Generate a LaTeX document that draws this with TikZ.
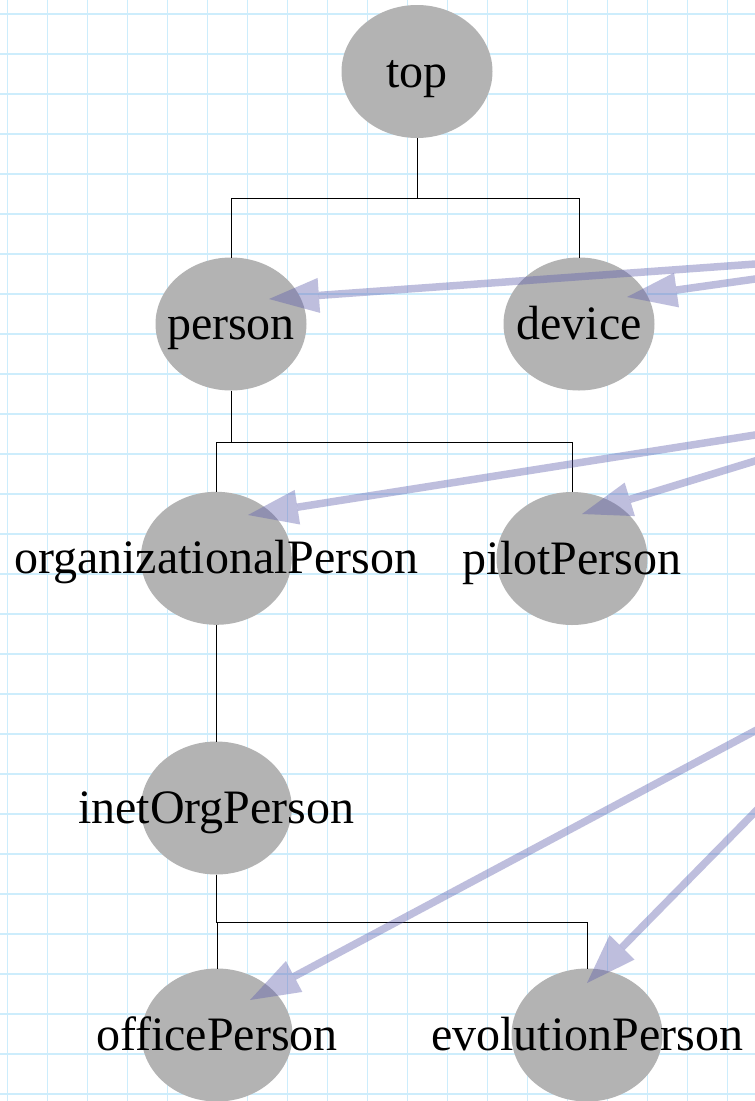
\documentclass[tikz,border=0pt]{standalone}
\usepackage{fontspec}
\setmainfont{Liberation Serif}
\usetikzlibrary{arrows.meta, shapes.geometric}
\definecolor{gridblue}{RGB}{205,237,252}
\definecolor{nodegray}{RGB}{179,179,179}
\definecolor{arrowblue}{RGB}{93,93,172}
\tikzset{
  cls/.style={ellipse, fill=nodegray, draw=none, inner sep=0pt, outer sep=0pt, minimum width=151pt, minimum height=133pt},
  clslbl/.style={font=\fontsize{48}{56}\selectfont, text height=31pt, text depth=0pt, inner sep=0pt, text=black},
  tree/.style={draw=black, line width=1pt},
  refarrow/.style={draw=arrowblue, line width=7.5pt, opacity=0.4, -{Triangle[length=50pt, width=35pt, line width=0pt]}},
  gridline/.style={draw=gridblue, line width=1.8pt}
}
\begin{document}
\begin{tikzpicture}[x=1pt, y=-1pt]
\useasboundingbox (0,0) rectangle (755,1101);
\clip (0,0) rectangle (755,1101);
\fill[white] (0,0) rectangle (755,1101);
\foreach \i in {0,...,18} \draw[gridline] (7.5+40*\i,0) -- (7.5+40*\i,1101);
\foreach \j in {0,...,27} \draw[gridline] (0,14.3+40*\j) -- (755,14.3+40*\j);

% classes
\node[cls, label={[clslbl, name=ltop]center:top}] (top) at (417,71.5) {};
\node[cls, label={[clslbl, name=lperson]center:person}] (person) at (231,324) {};
\node[cls, label={[clslbl, name=ldevice]center:device}] (device) at (579,324) {};
\node[cls, label={[clslbl, name=lorg]center:organizationalPerson}] (org) at (216.3,558.3) {};
\node[cls, label={[clslbl, name=lpilot]center:pilotPerson}] (pilot) at (572,558.5) {};
\node[cls, label={[clslbl, name=linet]center:inetOrgPerson}] (inet) at (216.3,808) {};
\node[cls, label={[clslbl, name=loffice]center:officePerson}] (office) at (217,1035) {};
\node[cls, label={[clslbl, name=levo]center:evolutionPerson}] (evo) at (587,1035) {};

% tree connectors
\coordinate (b1) at (417,198);
\draw[tree] (top.south) -- (b1);
\draw[tree] (person.north) |- (b1);
\draw[tree] (device.north) |- (b1);
\coordinate (b2) at (231,442);
\draw[tree] (person.south) -- (b2);
\draw[tree] (org.north) |- (b2);
\draw[tree] (pilot.north) |- (b2);
\draw[tree] (org.south) -- (inet.north);
\coordinate (b4) at (216.3,922);
\draw[tree] (inet.south) -- (b4);
\draw[tree] (office.north) |- (b4);
\draw[tree] (evo.north) |- (b4);

% reference arrows from outside the picture
\coordinate (sP) at (800,260.8);
\coordinate (tP) at (269,299);
\coordinate (sD) at (800,272.7);
\coordinate (tD) at (627,297);
\coordinate (sO) at (800,427.9);
\coordinate (tO) at (248,515);
\coordinate (sPi) at (800,447.2);
\coordinate (tPi) at (582,514);
\coordinate (sOf) at (800,706.9);
\coordinate (tOf) at (250,1000);
\coordinate (sE) at (800,766.2);
\coordinate (tE) at (587,983);
\draw[refarrow] (sP) -- (tP);
\draw[refarrow] (sD) -- (tD);
\draw[refarrow] (sO) -- (tO);
\draw[refarrow] (sPi) -- (tPi);
\draw[refarrow] (sOf) -- (tOf);
\draw[refarrow] (sE) -- (tE);
\end{tikzpicture}
\end{document}
